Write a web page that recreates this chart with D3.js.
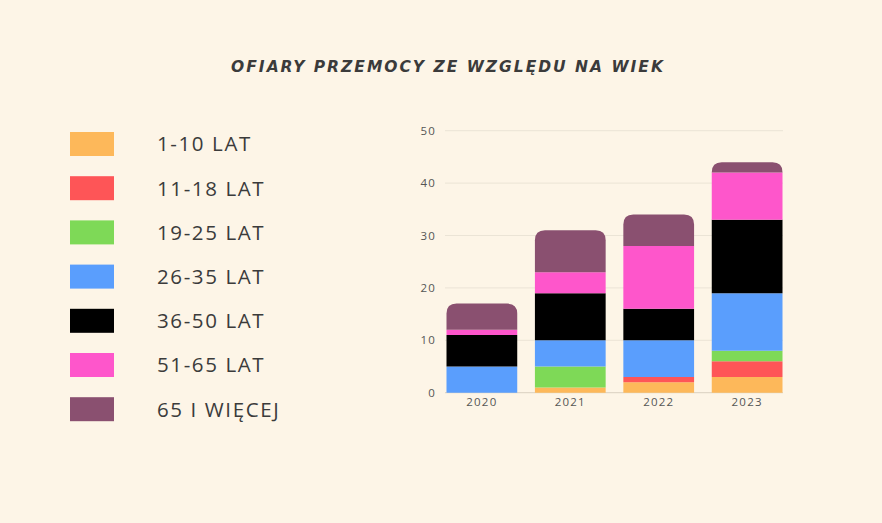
<!DOCTYPE html>
<html>
<head>
<meta charset="utf-8">
<script src="https://cdn.jsdelivr.net/npm/d3@7"></script>
<style>
	html, body { margin: 0; padding: 0; background: #fdf5e7; }
	svg { display: block; }
</style>
</head>
<body>
<div id="chart"></div>
<script>
// lata i grupy wiekowe
var years = ['2020', '2021', '2022', '2023'];
var groups = ['1-10 LAT', '11-18 LAT', '19-25 LAT', '26-35 LAT', '36-50 LAT', '51-65 LAT', '65 I WIĘCEJ'];
var colors = ['#fdb85a', '#fe5557', '#7ed957', '#5a9efd', '#000000', '#fe56cb', '#8a5070'];

// liczba ofiar w kazdej grupie, po jednej wartosci na rok
var age1to10   = [0, 1, 2, 3];
var age11to18  = [0, 0, 1, 3];
var age19to25  = [0, 4, 0, 2];
var age26to35  = [5, 5, 7, 11];
var age36to50  = [6, 9, 6, 14];
var age51to65  = [1, 4, 12, 9];
var age65plus  = [5, 8, 6, 2];
var yTicks = [0, 10, 20, 30, 40, 50];

var series = [age1to10, age11to18, age19to25, age26to35, age36to50, age51to65, age65plus];

var W = 882, H = 523;
var svg = d3.select('#chart')
	.append('svg')
	.attr('width', W)
	.attr('height', H)
	.style('font-family', '"Open Sans", sans-serif');

svg.append('rect')
	.attr('width', W)
	.attr('height', H)
	.attr('fill', '#fdf5e7');

// tytul
svg.append('text')
	.attr('x', 448)
	.attr('y', 72)
	.attr('text-anchor', 'middle')
	.style('font-family', '"DejaVu Sans", sans-serif')
	.style('font-size', '15.5px')
	.style('font-weight', 700)
	.style('font-style', 'italic')
	.style('letter-spacing', '2px')
	.attr('fill', '#3b3b3b')
	.text('OFIARY PRZEMOCY ZE WZGLĘDU NA WIEK');

// legenda
var legend = svg.append('g');
var item = legend.selectAll('g')
	.data(groups)
	.enter()
	.append('g')
	.attr('transform', function(d, i) { return 'translate(0,' + (144 + i * 44.2) + ')'; });

item.append('rect')
	.attr('x', 70)
	.attr('y', -12)
	.attr('width', 44)
	.attr('height', 24)
	.attr('fill', function(d, i) { return colors[i]; });

item.append('text')
	.attr('x', 157)
	.attr('dy', '0.36em')
	.style('font-size', '20.5px')
	.style('letter-spacing', '1.6px')
	.attr('fill', '#3b3b3b')
	.text(function(d) { return d; });

// wykres
var x = d3.scaleBand()
	.domain(years)
	.range([446.5, 782.5])
	.paddingInner(0.2)
	.paddingOuter(0);

var y = d3.scaleLinear()
	.domain([0, 50])
	.range([392.7, 130.7]);

var grid = svg.append('g');
grid.selectAll('line')
	.data(yTicks)
	.enter()
	.append('line')
	.attr('x1', 445)
	.attr('x2', 783)
	.attr('y1', function(d) { return y(d); })
	.attr('y2', function(d) { return y(d); })
	.style('stroke', function(d) { return d === 0 ? '#d9d0c0' : '#ebe4d6'; })
	.style('stroke-width', 1);

var yAxis = d3.axisLeft(y).tickValues(yTicks).tickSize(0).tickPadding(0);
svg.append('g')
	.attr('class', 'axis')
	.attr('transform', 'translate(436,0)')
	.call(yAxis);

var xAxis = d3.axisBottom(x).tickSize(0).tickPadding(5);
svg.append('g')
	.attr('class', 'axis')
	.attr('transform', 'translate(0,' + y(0) + ')')
	.call(xAxis);

svg.selectAll('.axis path').remove();
svg.selectAll('.axis text')
	.style('font-size', '11.5px')
	.style('font-family', '"Open Sans", sans-serif')
	.style('letter-spacing', '1.2px')
	.attr('fill', '#555');

// stosy
var rows = years.map(function(yr, j) {
	var r = { year: yr };
	groups.forEach(function(g, i) { r[g] = series[i][j]; });
	return r;
});
var stacked = d3.stack().keys(groups)(rows);

// ostatni niezerowy segment dostaje zaokraglone rogi
var topIndex = years.map(function(yr, j) {
	var t = -1;
	series.forEach(function(s, i) { if (s[j] > 0) t = i; });
	return t;
});

function segPath(x0, y0, w, h, r) {
	r = Math.min(r, h, w / 2);
	return 'M' + x0 + ',' + (y0 + h) +
		'V' + (y0 + r) +
		'Q' + x0 + ',' + y0 + ' ' + (x0 + r) + ',' + y0 +
		'H' + (x0 + w - r) +
		'Q' + (x0 + w) + ',' + y0 + ' ' + (x0 + w) + ',' + (y0 + r) +
		'V' + (y0 + h) + 'Z';
}

var layer = svg.append('g').selectAll('g')
	.data(stacked)
	.enter()
	.append('g')
	.attr('fill', function(d, i) { return colors[i]; });

layer.each(function(s, i) {
	d3.select(this).selectAll('path')
		.data(s.filter(function(d) { return d[1] > d[0]; }))
		.enter()
		.append('path')
		.attr('d', function(d) {
			var j = years.indexOf(d.data.year);
			var x0 = x(d.data.year), w = x.bandwidth();
			var y0 = y(d[1]), h = y(d[0]) - y(d[1]);
			return segPath(x0, y0, w, h, topIndex[j] === i ? 10 : 0);
		});
});
</script>
</body>
</html>
